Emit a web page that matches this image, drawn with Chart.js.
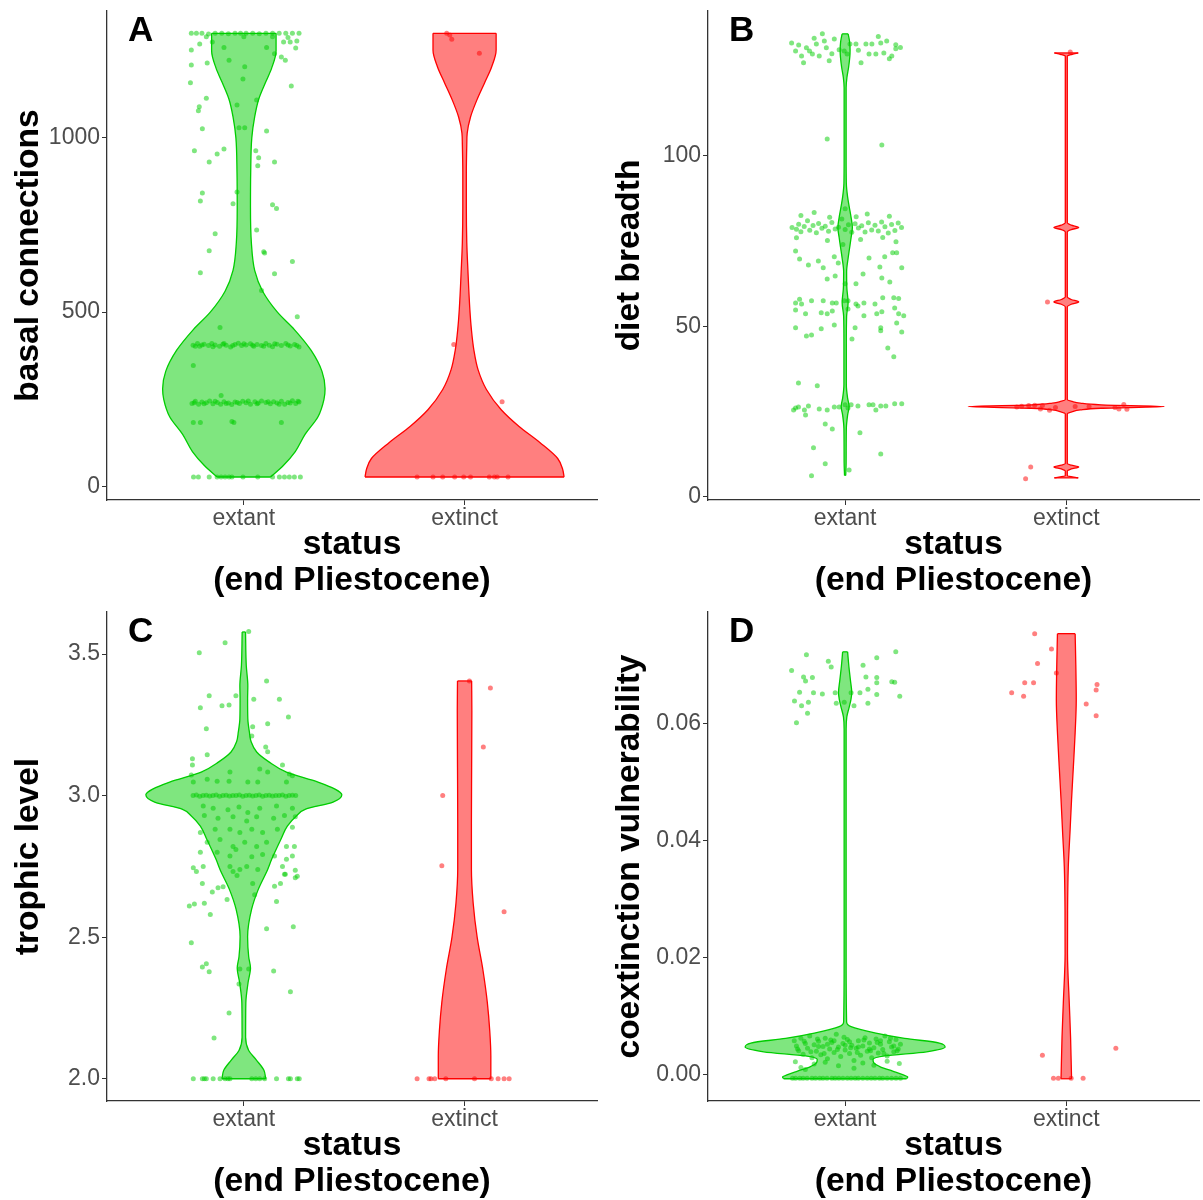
<!DOCTYPE html>
<html>
<head>
<meta charset="utf-8">
<script src="https://cdn.jsdelivr.net/npm/chart.js@4.4.1/dist/chart.umd.min.js"></script>
<style>
  body { margin: 0; background: #fff; overflow: hidden; }
  canvas { position: absolute; }
</style>
</head>
<body>
<canvas id="pA" width="601" height="600" style="left:0;top:0"></canvas>
<canvas id="pB" width="602" height="600" style="left:601px;top:0"></canvas>
<canvas id="pC" width="601" height="600" style="left:0;top:601px"></canvas>
<canvas id="pD" width="602" height="600" style="left:601px;top:601px"></canvas>
<script>
// categories on the x axis (1 = extant, 2 = extinct)
const categories = ["extant", "extinct"];
const xTitle = ["status", "(end Pliestocene)"];

// ---- A: basal connections ----
const basalTicks = [0, 500, 1000];
const basalExtantLevels = [27, 60, 100, 150, 200, 250, 280, 330, 390, 450, 500, 560, 620, 700, 800, 900, 1000, 1060, 1110, 1160, 1200, 1250, 1300];
const basalExtantWidths = [0.121, 0.179, 0.233, 0.278, 0.336, 0.363, 0.368, 0.354, 0.305, 0.229, 0.152, 0.085, 0.049, 0.034, 0.030, 0.031, 0.036, 0.049, 0.067, 0.099, 0.126, 0.146, 0.146];
const basalExtinctLevels = [27, 50, 80, 126, 172, 220, 278, 335, 392, 450, 507, 622, 700, 800, 900, 980, 1014, 1060, 1109, 1157, 1204, 1252, 1300];
const basalExtinctWidths = [0.451, 0.444, 0.422, 0.341, 0.247, 0.166, 0.099, 0.061, 0.042, 0.031, 0.024, 0.015, 0.010, 0.008, 0.008, 0.010, 0.012, 0.027, 0.056, 0.090, 0.123, 0.143, 0.143];
const basalExtantPoints = [
  [0.762,1300],[0.785,1300],[0.81,1300],[0.84,1298],[0.87,1300],[0.90,1300],[0.93,1299],[0.96,1300],[0.985,1300],[1.01,1300],
  [1.04,1300],[1.07,1299],[1.10,1300],[1.13,1300],[1.16,1300],[1.19,1300],[1.22,1300],[1.25,1300],[0.83,1290],[1.0,1290],
  [1.13,1290],[1.2,1288],[1.24,1278],[1.21,1275],[1.18,1275],[0.857,1275],[0.80,1269],
  [0.762,1252],[0.91,1259],[1.103,1259],[1.235,1258],[1.139,1241],[1.17,1232],[1.188,1223],[0.762,1209],[0.834,1215],
  [0.933,1223],[1.004,1204],[0.996,1169],[0.758,1158],[1.215,1149],[0.83,1114],[1.058,1109],[0.969,1094],[0.798,1089],
  [0.794,1078],[0.978,1029],[1.004,1029],[0.812,1026],[1.103,1020],[0.776,963],[0.91,968],[0.879,954],[1.054,963],
  [1.067,943],[1.063,920],[0.843,931],[1.139,931],[0.812,842],[0.969,845],[0.803,819],[0.951,811],[1.13,808],[1.148,797],
  [0.87,725],[1.058,736],[0.843,676],[1.09,673],[1.094,670],[1.22,645],[0.803,613],[1.139,610],[1.08,562],[1.242,487],
  [0.892,456],[0.771,347],[0.897,261],[0.771,183],[0.803,183],[0.946,186],[0.955,183],[1.17,183],
  [0.77,405],[0.79,410],[0.80,402],[0.82,408],[0.84,404],[0.855,410],[0.87,406],[0.89,402],[0.905,408],[0.92,405],
  [0.94,400],[0.96,407],[0.975,411],[0.99,404],[1.01,406],[1.03,409],[1.045,402],[1.06,407],[1.08,404],[1.10,410],
  [1.115,405],[1.13,401],[1.15,408],[1.17,404],[1.19,410],[1.21,403],[1.23,407],[1.25,400],
  [0.78,402],[0.81,406],[0.86,401],[0.91,410],[0.95,404],[1.00,409],[1.04,405],[1.09,402],[1.14,409],[1.2,406],[1.24,404],
  [0.765,238],[0.78,244],[0.795,236],[0.81,242],[0.83,240],[0.845,245],[0.86,237],[0.88,241],[0.895,236],[0.91,243],
  [0.93,239],[0.945,235],[0.96,242],[0.98,238],[0.995,244],[1.01,240],[1.03,236],[1.05,243],[1.065,239],[1.08,245],
  [1.10,241],[1.12,237],[1.135,243],[1.15,239],[1.17,244],[1.185,236],[1.20,241],[1.22,246],[1.235,238],[1.25,242],
  [0.775,240],[0.82,237],[0.87,244],[0.92,238],[0.97,241],[1.02,245],[1.06,237],[1.11,243],[1.16,236],[1.21,239],[1.245,244],
  [0.772,27],[0.794,27],[0.843,27],[0.879,27],[0.897,27],[0.915,27],[0.933,27],[0.946,27],[0.996,27],[1.063,27],
  [1.13,27],[1.161,27],[1.184,27],[1.206,27],[1.229,27],[1.256,27]
];
const basalExtinctPoints = [
  [1.919,1300],[1.933,1295],[1.942,1283],[2.067,1243],[1.951,407],[2.170,243],
  [1.785,27],[1.857,27],[1.901,27],[1.955,27],[1.996,27],[2.027,27],[2.112,27],[2.135,27],[2.148,27],[2.197,27]
];

// ---- B: diet breadth ----
const dietTicks = [0, 50, 100];
const dietExtantLevels = [6.3, 10, 20, 24, 26.5, 29, 33, 45, 53, 57, 61, 66, 70, 73, 76, 79, 82, 85, 88, 92, 100, 110, 120, 123, 126, 129, 131, 133.5, 135.8];
const dietExtantWidths = [0.0027, 0.0045, 0.0054, 0.0112, 0.0179, 0.0112, 0.0054, 0.0054, 0.0067, 0.0135, 0.0081, 0.0067, 0.0135, 0.0202, 0.0269, 0.0327, 0.0269, 0.0188, 0.0112, 0.0054, 0.0045, 0.0045, 0.0045, 0.0081, 0.0157, 0.0211, 0.0224, 0.0202, 0.0135];
const dietExtinctLevels = [5.6, 6.2, 7.6, 8.2, 8.8, 9.3, 9.8, 24.4, 25.0, 25.5, 26.0, 26.5, 27.0, 27.5, 28.0, 28.6, 55.7, 56.5, 57.2, 57.9, 58.6, 77.7, 78.4, 79.0, 79.7, 80.4, 129.3, 129.8, 130.2];
const dietExtinctWidths = [0.054, 0.0045, 0.0045, 0.0224, 0.056, 0.0224, 0.0045, 0.0045, 0.027, 0.063, 0.157, 0.444, 0.157, 0.063, 0.027, 0.0045, 0.0045, 0.0224, 0.056, 0.0224, 0.0045, 0.0045, 0.0224, 0.056, 0.0224, 0.0045, 0.0045, 0.027, 0.054];
const dietExtantPoints = [
  [0.758,133.1],[0.776,130.8],[0.803,129.3],[0.812,127.3],[0.825,131.7],[0.839,130.8],[0.852,129.9],[0.870,132.8],[0.883,129.3],[0.897,135.8],
  [0.906,133.7],[0.915,131.7],[0.928,127.9],[0.951,134.3],[0.973,131.1],[0.996,130.8],[1.009,129.9],[1.022,132.8],[1.049,132.8],[1.072,127.3],
  [1.094,132.8],[1.108,129.9],[1.121,132.8],[1.139,129.9],[1.161,133.1],[1.175,130.2],[1.188,133.7],[1.211,129.3],[1.229,131.4],[1.229,132.6],
  [0.79,132.5],[0.86,134.5],[0.94,130],[1.06,131],[1.15,135],[1.2,128.5],[1.25,131.8],
  [0.919,105],[1.166,103.2],
  [0.76,79],[0.78,78.5],[0.79,80],[0.80,77.8],[0.815,79.3],[0.83,81],[0.84,78.2],[0.855,79.6],[0.87,77.5],[0.88,80.2],
  [0.895,78.8],[0.91,79.4],[0.925,77.9],[0.94,80.5],[0.955,78.6],[0.97,79.1],[0.985,81.5],[1.0,78.4],[1.015,79.8],[1.03,77.6],
  [1.045,80.1],[1.06,78.9],[1.075,79.5],[1.09,77.7],[1.105,80.4],[1.12,78.3],[1.135,79.7],[1.15,78.0],[1.165,80.6],[1.18,79.2],
  [1.195,77.4],[1.21,79.9],[1.225,78.1],[1.24,80.3],[1.255,79.0],
  [0.80,82.5],[0.86,83.4],[0.93,82],[1.0,84.5],[1.05,82.2],[1.1,83],[1.2,82.3],[0.78,76],[0.92,75.2],[0.99,74],[1.07,75.5],[1.17,76.1],[1.23,74.8],
  [0.776,72.1],[0.794,69.8],[0.834,68],[0.879,69.2],[0.901,67.2],[0.951,70.4],[0.969,68.6],[0.919,63.9],[0.955,64.8],[1.0,62.5],
  [1.049,62.5],[1.081,65.4],[1.108,70.1],[1.157,67.4],[1.166,64.2],[1.202,63],[1.179,70.4],[1.215,71.6],[1.233,71.6],[1.256,67.2],
  [0.776,56.9],[0.794,58],[0.803,56.6],[0.848,57.5],[0.901,57.5],[0.942,56.9],[0.960,56.9],[0.996,57.5],[1.013,57.5],[1.049,56.6],
  [1.085,56.9],[1.135,56.6],[1.170,58.4],[1.220,58.4],[1.242,58.2],
  [0.776,54.8],[0.821,53.7],[0.892,54],[0.919,53.7],[0.942,54.5],[1.013,55.1],[1.058,56],[1.085,53.1],[1.143,53.7],[1.166,54.3],
  [1.224,55.4],[1.242,53.7],[1.265,53.1],[0.776,49.6],[0.825,47.2],[0.848,47.5],[0.892,49.3],[0.951,50.4],[1.045,49.6],[1.161,49.6],
  [1.161,48.7],[1.233,51],[1.256,48.4],[1.193,43.7],[1.220,41.1],[1.031,46.3],
  [0.789,33.4],[0.874,32.6],
  [0.767,25.5],[0.776,26.1],[0.789,26.4],[0.816,25.5],[0.834,26.7],[0.883,25.8],[0.919,25.5],[0.951,26.4],[0.973,26.4],[1.0,27],
  [1.013,26.1],[1.027,27],[1.058,26.7],[1.108,27],[1.126,27],[1.139,25.5],[1.161,26.7],[1.184,26.7],[1.224,27.3],[1.256,27.3],
  [0.821,24],[0.910,21.4],[0.942,19.9],[1.067,18.8],[0.857,14.4],[1.161,12.6],[0.910,9.7],[1.018,7.9],[0.848,6.2]
];
const dietExtinctPoints = [
  [2.018,130.5],[1.915,57.2],
  [1.776,26.4],[1.798,26.6],[1.830,26.8],[1.857,26.9],[1.883,25.8],[1.892,26.8],[1.924,25.4],[1.951,26.2],[2.040,26.5],[2.103,26.5],
  [2.220,26.2],[2.238,25.8],[2.260,27.1],[2.274,25.7],
  [1.839,8.8],[1.816,5.3]
];

// ---- C: trophic level ----
const trophicTicks = [2.0, 2.5, 3.0, 3.5];
const trophicExtantLevels = [2.0, 2.03, 2.066, 2.1, 2.147, 2.268, 2.339, 2.392, 2.431, 2.502, 2.598, 2.668, 2.739, 2.775, 2.846, 2.892, 2.928, 2.952, 2.977, 3.003, 3.023, 3.048, 3.083, 3.12, 3.154, 3.19, 3.225, 3.271, 3.342, 3.388, 3.459, 3.578];
const trophicExtantWidths = [0.099, 0.091, 0.057, 0.022, 0.008, 0.009, 0.019, 0.030, 0.022, 0.017, 0.035, 0.065, 0.108, 0.126, 0.168, 0.197, 0.238, 0.280, 0.404, 0.444, 0.413, 0.336, 0.193, 0.112, 0.058, 0.033, 0.025, 0.018, 0.017, 0.018, 0.011, 0.0076];
const trophicExtinctLevels = [2.0, 2.08, 2.17, 2.27, 2.385, 2.5, 2.62, 2.74, 2.9, 3.1, 3.3, 3.405];
const trophicExtinctWidths = [0.119, 0.119, 0.114, 0.103, 0.083, 0.057, 0.039, 0.031, 0.031, 0.032, 0.033, 0.032];
const trophicExtantPoints = [
  [1.022,3.58],[0.915,3.54],[0.798,3.505],[1.103,3.405],[0.843,3.353],[0.964,3.353],[1.045,3.34],[1.161,3.34],[0.803,3.31],[0.901,3.317],
  [0.933,3.32],[1.202,3.278],[0.830,3.236],[1.040,3.243],[1.108,3.254],[1.036,3.211],[0.834,3.144],[1.099,3.172],[1.108,3.155],[0.767,3.13],
  [0.767,3.108],[0.762,3.073],[1.175,3.108],[1.206,3.076],[0.771,3.048],[0.834,3.058],[0.937,3.083],[1.072,3.094],[1.108,3.083],[0.879,3.051],
  [0.933,3.051],[1.018,3.048],[1.063,3.048],[1.193,3.048],[1.220,3.07],
  [0.77,3.0],[0.785,3.002],[0.80,2.998],[0.815,3.0],[0.83,3.001],[0.845,2.999],[0.86,3.0],[0.875,3.002],[0.89,2.998],[0.905,3.0],
  [0.92,3.001],[0.935,2.999],[0.95,3.0],[0.965,3.0],[0.98,3.002],[0.995,2.998],[1.01,3.0],[1.025,3.001],[1.04,2.999],[1.055,3.0],
  [1.07,3.002],[1.085,2.998],[1.10,3.0],[1.115,3.001],[1.13,2.999],[1.145,3.0],[1.16,3.0],[1.175,3.002],[1.19,2.998],[1.205,3.0],
  [1.22,3.001],[1.235,3.0],
  [0.816,2.963],[0.861,2.955],[0.928,2.95],[0.978,2.96],[1.018,2.94],[1.072,2.955],[1.148,2.963],[1.220,2.955],[0.821,2.93],[0.883,2.92],
  [0.951,2.925],[1.013,2.91],[1.058,2.925],[1.135,2.92],[1.184,2.93],[1.233,2.925],[0.870,2.881],[0.937,2.881],[0.982,2.87],[1.036,2.881],
  [1.085,2.87],[1.152,2.881],[1.220,2.888],[0.803,2.87],[0.834,2.835],[0.892,2.845],[0.951,2.82],[1.004,2.835],[1.058,2.82],[1.103,2.835],
  [1.193,2.82],[1.229,2.82],[0.879,2.8],[0.937,2.787],[0.964,2.81],[1.036,2.784],[1.085,2.792],[1.139,2.787],[1.193,2.775],[1.220,2.787],
  [0.803,2.80],[0.816,2.75],[0.771,2.745],[0.937,2.75],[0.982,2.739],[1.013,2.75],[1.063,2.739],[1.175,2.75],[1.233,2.736],[1.242,2.715],
  [1.184,2.722],[0.785,2.732],[0.951,2.732],[0.969,2.718],[1.040,2.69],[1.139,2.68],[1.166,2.69],[1.188,2.722],[1.233,2.71],[0.812,2.69],
  [0.857,2.66],[0.883,2.675],[0.906,2.678],[0.924,2.633],[1.049,2.65],[0.753,2.61],[0.776,2.617],[0.821,2.62],[0.848,2.58],[1.148,2.626],
  [1.103,2.53],[1.224,2.537],[0.762,2.48],[0.830,2.406],[0.812,2.395],[0.843,2.378],[0.982,2.388],[1.022,2.388],[1.135,2.381],[0.978,2.335],
  [1.211,2.307],[0.933,2.232],[0.865,2.144],
  [0.771,2],[0.812,2],[0.821,2],[0.830,2],[0.861,2],[0.892,2],[0.915,2],[0.928,2],[0.937,2],[1.036,2],
  [1.054,2],[1.072,2],[1.094,2],[1.148,2],[1.202,2],[1.211,2],[1.242,2],[1.251,2]
];
const trophicExtinctPoints = [
  [2.022,3.405],[2.117,3.38],[2.085,3.172],[1.901,3.0],[1.897,2.752],[2.179,2.59],
  [1.785,2],[1.839,2],[1.848,2],[1.865,2],[1.915,2],[2.045,2],[2.121,2],[2.152,2],[2.179,2],[2.202,2]
];

// ---- D: coextinction vulnerability ----
const coextTicks = [0.00, 0.02, 0.04, 0.06];
const coextExtantLevels = [-0.0007, -0.0004, 0.0, 0.0006, 0.0013, 0.002, 0.0026, 0.0032, 0.0039, 0.0047, 0.0054, 0.0062, 0.0071, 0.0082, 0.009, 0.02, 0.04, 0.059, 0.0611, 0.0628, 0.064, 0.0652, 0.0674, 0.0697, 0.0722];
const coextExtantWidths = [0.278, 0.283, 0.260, 0.215, 0.161, 0.130, 0.126, 0.179, 0.368, 0.452, 0.426, 0.269, 0.139, 0.027, 0.0067, 0.0045, 0.0045, 0.0045, 0.0076, 0.0188, 0.026, 0.030, 0.0238, 0.017, 0.0112];
const coextExtinctLevels = [-0.0007, 0.0064, 0.0122, 0.0207, 0.028, 0.0355, 0.0413, 0.047, 0.0526, 0.0584, 0.064, 0.07, 0.0753];
const coextExtinctWidths = [0.0238, 0.0193, 0.0135, 0.0054, 0.0058, 0.009, 0.0166, 0.0238, 0.032, 0.040, 0.045, 0.043, 0.040];
const coextExtantPoints = [
  [0.758,0.069],[0.825,0.0717],[0.924,0.0706],[0.937,0.0696],[0.812,0.0679],[0.821,0.0672],[0.852,0.0678],[0.794,0.0653],[0.771,0.0638],[0.803,0.063],
  [0.834,0.0636],[0.830,0.0617],[0.780,0.0601],[0.857,0.0652],[0.897,0.065],[0.955,0.0652],[0.960,0.0634],[0.996,0.0636],[1.027,0.0652],[1.040,0.063],
  [1.067,0.0652],[1.081,0.0699],[1.094,0.0679],[1.103,0.0658],[1.103,0.0634],[1.143,0.0712],[1.143,0.0678],[1.143,0.0669],[1.143,0.0649],[1.211,0.0671],
  [1.224,0.067],[1.229,0.0722],[1.247,0.0646],
  [0.77,0.0058],[0.78,0.0049],[0.79,0.0041],[0.80,0.0062],[0.81,0.0035],[0.82,0.0053],[0.83,0.0045],[0.84,0.0066],[0.85,0.0029],[0.86,0.0051],
  [0.87,0.0040],[0.88,0.0057],[0.89,0.0034],[0.90,0.0048],[0.91,0.0062],[0.92,0.0027],[0.93,0.0044],[0.94,0.0055],[0.95,0.0038],[0.96,0.0069],
  [0.97,0.0047],[0.98,0.0031],[0.99,0.0053],[1.00,0.0042],[1.01,0.0060],[1.02,0.0036],[1.03,0.0050],[1.04,0.0024],[1.05,0.0045],[1.06,0.0058],
  [1.07,0.0033],[1.08,0.0049],[1.09,0.0063],[1.10,0.0040],[1.11,0.0054],[1.12,0.0029],[1.13,0.0046],[1.14,0.0061],[1.15,0.0037],[1.16,0.0052],
  [1.17,0.0043],[1.18,0.0066],[1.19,0.0032],[1.20,0.0056],[1.21,0.0047],[1.22,0.0039],[1.23,0.0060],[1.24,0.0044],[1.25,0.0052],
  [0.775,0.0022],[0.80,0.0012],[0.82,0.0009],[0.86,0.0018],[0.91,0.0021],[0.97,0.0015],[1.04,0.0011],[1.08,0.0020],[1.13,0.0016],[1.19,0.0023],
  [1.245,0.0019],[0.88,0.0048],[0.92,0.0052],[0.95,0.0058],[1.0,0.0050],[1.02,0.0056],[1.06,0.0047],[1.11,0.0044],[1.16,0.0058],[1.22,0.0049],
  [0.785,0.0044],[0.815,0.0057],[0.845,0.0039],[0.875,0.0061],[0.905,0.0036],[0.935,0.0059],[0.965,0.0043],[0.995,0.0064],[1.025,0.0046],[1.055,0.0038],
  [1.085,0.0059],[1.115,0.0041],[1.145,0.0055],[1.175,0.0036],[1.205,0.0062],[1.235,0.0041],
  [0.762,-0.0006],[0.776,-0.0006],[0.795,-0.0006],[0.81,-0.0006],[0.828,-0.0006],[0.85,-0.0006],[0.866,-0.0006],[0.885,-0.0006],[0.9,-0.0006],[0.918,-0.0006],
  [0.94,-0.0006],[0.955,-0.0006],[0.972,-0.0006],[0.99,-0.0006],[1.01,-0.0006],[1.027,-0.0006],[1.045,-0.0006],[1.06,-0.0006],[1.08,-0.0006],[1.1,-0.0006],
  [1.118,-0.0006],[1.135,-0.0006],[1.155,-0.0006],[1.17,-0.0006],[1.19,-0.0006],[1.21,-0.0006],[1.23,-0.0006],[1.25,-0.0006]
];
const coextExtinctPoints = [
  [1.857,0.0753],[1.933,0.0727],[1.870,0.0702],[1.955,0.0686],[1.812,0.0669],[1.852,0.0669],[1.753,0.0652],[1.807,0.0646],[2.139,0.0666],[2.135,0.0657],
  [2.090,0.0633],[2.135,0.0613],[1.892,0.0033],[2.224,0.0045],
  [1.942,-0.0006],[1.964,-0.0006],[2.022,-0.0006],[2.076,-0.0006]
];

const GREEN = "rgb(0,205,0)";
const GREEN_FILL = "rgba(0,205,0,0.5)";
const RED = "rgb(255,0,0)";
const RED_FILL = "rgba(255,0,0,0.5)";
const FONT = "'Liberation Sans', Arial, Helvetica, sans-serif";

// four line datasets make one violin: two caps, left edge, right edge filled to the left edge
function violin(levels, widths, center, line, fill) {
  const n = levels.length;
  const base = { type: "line", borderColor: line, borderWidth: 1.3, pointRadius: 0, fill: false };
  const edge = { ...base, indexAxis: "y", cubicInterpolationMode: "monotone" };
  return [
    { ...base, data: [{ x: center - widths[n - 1], y: levels[n - 1] }, { x: center + widths[n - 1], y: levels[n - 1] }] },
    { ...base, data: [{ x: center - widths[0], y: levels[0] }, { x: center + widths[0], y: levels[0] }] },
    { ...edge, data: levels.map((y, i) => ({ x: center - widths[i], y })) },
    { ...edge, data: levels.map((y, i) => ({ x: center + widths[i], y })), fill: "-1", backgroundColor: fill },
  ];
}

function jitter(points, color) {
  return {
    type: "scatter",
    data: points.map((p) => ({ x: p[0], y: p[1] })),
    pointRadius: 2.5,
    pointBackgroundColor: color,
    pointBorderWidth: 0,
  };
}

const letterPlugin = {
  id: "letter",
  afterDraw(chart, args, opts) {
    const ctx = chart.ctx;
    ctx.save();
    ctx.font = "bold 35px " + FONT;
    ctx.fillStyle = "#000";
    ctx.textBaseline = "alphabetic";
    ctx.fillText(opts.text, chart.chartArea.left + 21, chart.chartArea.top + 30);
    ctx.restore();
  },
};

function panel(id, letter, yTitle, yMin, yMax, yTicks, digits, ext, extinct) {
  const datasets = [
    jitter(ext.points, GREEN_FILL),
    jitter(extinct.points, RED_FILL),
    ...violin(ext.levels, ext.widths, 1, GREEN, GREEN_FILL),
    ...violin(extinct.levels, extinct.widths, 2, RED, RED_FILL),
  ];
  new Chart(document.getElementById(id), {
    type: "scatter",
    data: { datasets },
    plugins: [letterPlugin],
    options: {
      responsive: false,
      animation: false,
      layout: { padding: { top: 11, right: 1, left: 0, bottom: 0 } },
      plugins: { legend: { display: false }, tooltip: { enabled: false }, letter: { text: letter } },
      scales: {
        x: {
          type: "linear",
          min: 0.38,
          max: 2.6,
          afterBuildTicks: (s) => { s.ticks = [{ value: 1 }, { value: 2 }]; },
          afterFit: (s) => { s.height = 100; s.paddingLeft = 0; s.paddingRight = 0; },
          ticks: {
            callback: (v) => categories[v - 1],
            font: { family: FONT, size: 23 },
            color: "#4d4d4d",
            padding: 0,
            maxRotation: 0,
          },
          grid: { drawOnChartArea: false, drawTicks: true, tickLength: 5, color: "#333" },
          border: { display: true, color: "#333", width: 1.3 },
          title: {
            display: true,
            text: xTitle,
            font: { family: FONT, size: 33.5, weight: "bold", lineHeight: 1.08 },
            color: "#000",
            padding: { top: 0, bottom: 1 },
          },
        },
        y: {
          type: "linear",
          min: yMin,
          max: yMax,
          afterBuildTicks: (s) => { s.ticks = yTicks.map((v) => ({ value: v })); },
          afterFit: (s) => { s.width = 107; s.paddingTop = 0; s.paddingBottom = 0; },
          ticks: {
            callback: (v) => v.toFixed(digits),
            font: { family: FONT, size: 23 },
            color: "#4d4d4d",
            padding: 2,
          },
          grid: { drawOnChartArea: false, drawTicks: true, tickLength: 5, color: "#333" },
          border: { display: true, color: "#333", width: 1.3 },
          title: {
            display: true,
            text: yTitle,
            font: { family: FONT, size: 33.5, weight: "bold", lineHeight: 1.05 },
            color: "#000",
            padding: { top: 11, bottom: 0 },
          },
        },
      },
    },
  });
}

panel("pA", "A", "basal connections", -39, 1364, basalTicks, 0,
  { levels: basalExtantLevels, widths: basalExtantWidths, points: basalExtantPoints },
  { levels: basalExtinctLevels, widths: basalExtinctWidths, points: basalExtinctPoints });
panel("pB", "B", "diet breadth", -0.9, 142.5, dietTicks, 0,
  { levels: dietExtantLevels, widths: dietExtantWidths, points: dietExtantPoints },
  { levels: dietExtinctLevels, widths: dietExtinctWidths, points: dietExtinctPoints });
panel("pC", "C", "trophic level", 1.9215, 3.6485, trophicTicks, 1,
  { levels: trophicExtantLevels, widths: trophicExtantWidths, points: trophicExtantPoints },
  { levels: trophicExtinctLevels, widths: trophicExtinctWidths, points: trophicExtinctPoints });
panel("pD", "D", "coextinction vulnerability", -0.0045, 0.079, coextTicks, 2,
  { levels: coextExtantLevels, widths: coextExtantWidths, points: coextExtantPoints },
  { levels: coextExtinctLevels, widths: coextExtinctWidths, points: coextExtinctPoints });
</script>
</body>
</html>
